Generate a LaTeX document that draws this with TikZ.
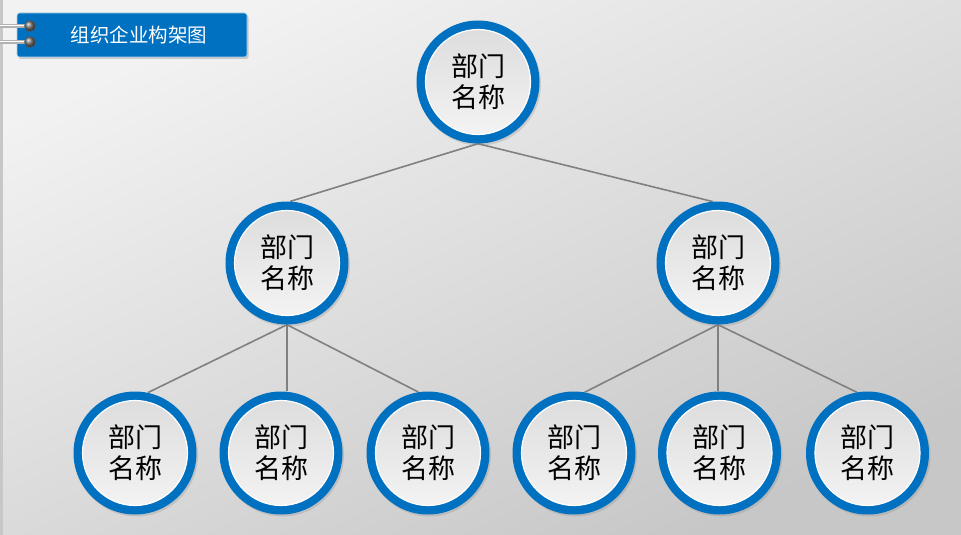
\documentclass[tikz,border=0pt]{standalone}
\usepackage{fontspec}
\newfontfamily\cjk{Noto Sans CJK SC}
\usetikzlibrary{shadows}
\definecolor{ringblue}{RGB}{0,112,192}
\definecolor{linegray}{RGB}{128,128,128}
\pgfdeclarelayer{back}
\pgfdeclarelayer{mid}
\pgfsetlayers{back,mid,main}
\tikzset{
  dept/.style={circle, minimum size=123pt, inner sep=0pt, fill=ringblue,
    drop shadow={opacity=0.25, shadow xshift=1.5pt, shadow yshift=-2pt},
    path picture={
      \shade[top color=black!14, bottom color=black!4]
        (path picture bounding box.center) circle (52.5pt);
      \draw[white, line width=1.2pt]
        (path picture bounding box.center) circle (52.5pt);
    },
    font=\cjk\fontsize{27}{31}\selectfont, align=center, text=black},
  link/.style={draw=linegray, line width=1.6pt},
  titlebox/.style={rectangle, rounded corners=2.5pt, fill=ringblue,
    draw=white!70!ringblue, line width=0.6pt,
    minimum width=230pt, minimum height=44pt, inner sep=0pt,
    drop shadow={opacity=0.35, shadow xshift=1.5pt, shadow yshift=-2pt},
    font=\cjk\fontsize{19.5}{23}\selectfont, text=white},
  ring/.style={circle, inner sep=0pt, minimum size=11pt, ball color=black!55, draw=black!65, line width=0.5pt},
  wire/.style={draw=black!30, line width=4pt}
}
\begin{document}
\begin{tikzpicture}[x=1pt,y=1pt]
\useasboundingbox (0,0) rectangle (961,-535);
\begin{pgfonlayer}{back}
  \shade[top color=black!5, bottom color=black!22, shading angle=25] (0,0) rectangle (961,-535);
  \fill[black!22] (0,0) rectangle (2.5,-535);
\end{pgfonlayer}

% title
\node[titlebox] (title) at (132,-35) {\hspace*{14pt}组织企业构架图};
\coordinate (r1) at (30,-26);
\coordinate (r2) at (30,-42);
\coordinate (w1) at (0,-26);
\coordinate (w2) at (0,-42);
\draw[wire] (w1) -- (r1);
\draw[wire] (w2) -- (r2);
\draw[white, line width=1pt] (w1) -- (r1);
\draw[white, line width=1pt] (w2) -- (r2);
\node[ring] (k1) at (r1) {};
\node[ring] (k2) at (r2) {};

% departments
\node[dept] (top) at (478,-82) {部门\\名称};
\node[dept] (ml) at (287,-263) {部门\\名称};
\node[dept] (mr) at (718,-263) {部门\\名称};
\node[dept] (b1) at (135,-453) {部门\\名称};
\node[dept] (b2) at (281,-453) {部门\\名称};
\node[dept] (b3) at (428,-453) {部门\\名称};
\node[dept] (b4) at (574,-453) {部门\\名称};
\node[dept] (b5) at (719.5,-453) {部门\\名称};
\node[dept] (b6) at (867.5,-453) {部门\\名称};

\begin{pgfonlayer}{mid}
  \draw[link] (top.south) -- (ml.87);
  \draw[link] (top.south) -- (mr.95);
  \draw[link] (ml.south) -- (b1.78);
  \draw[link] (ml.south) -- (ml.south |- b2.north);
  \draw[link] (ml.south) -- (b3.99);
  \draw[link] (mr.south) -- (b4.80);
  \draw[link] (mr.south) -- (mr.south |- b5.north);
  \draw[link] (mr.south) -- (b6.100);
\end{pgfonlayer}
\end{tikzpicture}
\end{document}
